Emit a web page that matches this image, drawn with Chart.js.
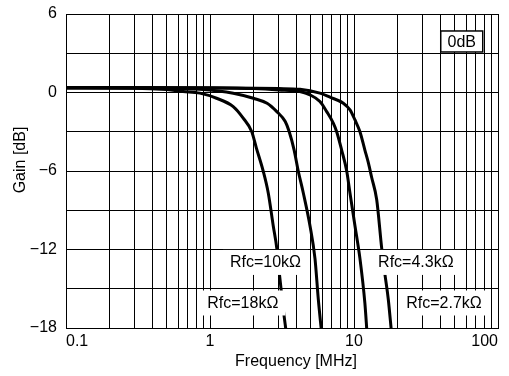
<!DOCTYPE html>
<html><head><meta charset="utf-8">
<script src="https://cdn.jsdelivr.net/npm/chart.js@4/dist/chart.umd.min.js"></script>
<style>html,body{margin:0;padding:0;background:#fff}</style>
</head><body>
<canvas id="c" width="509" height="376"></canvas>
<script>
// ---- data (frequency in MHz, gain in dB) ----
const seriesNames = ['Rfc=18k\u03A9', 'Rfc=10k\u03A9', 'Rfc=4.3k\u03A9', 'Rfc=2.7k\u03A9'];
const freq18k = [0.1, 0.3, 0.5, 0.65, 0.85, 1.11, 1.45, 1.70, 1.95, 2.1, 2.34, 2.54, 2.75, 2.91, 3.03, 3.23, 3.38];
const gain18k = [0.35, 0.33, 0.22, 0.08, -0.05, -0.44, -1.08, -1.96, -3.0, -4.25, -6.0, -7.7, -10.2, -11.9, -13.8, -16.6, -18.3];
const freq10k = [0.1, 0.5, 0.85, 1.45, 2.0, 2.49, 2.91, 3.33, 3.55, 3.84, 4.1, 4.45, 4.95, 5.36, 5.65, 5.95];
const gain10k = [0.35, 0.33, 0.25, -0.05, -0.44, -0.82, -1.46, -2.22, -3.0, -4.4, -6.0, -7.7, -10.2, -12.7, -15.8, -18.3];
const freq4k3 = [0.1, 1, 2, 3, 4.2, 4.95, 5.8, 6.46, 7.18, 7.58, 8.21, 8.9, 9.38, 10.16, 11.0, 11.9, 12.3];
const gain4k3 = [0.38, 0.35, 0.3, 0.2, 0.07, -0.18, -0.69, -1.46, -2.34, -3.0, -4.4, -6.0, -7.7, -10.2, -12.7, -16.1, -18.3];
const freq2k7 = [0.1, 1, 3, 4.22, 5.8, 6.81, 8.43, 9.38, 10.16, 11.0, 11.9, 12.6, 13.27, 14.38, 15.57, 16.4, 17.3, 18.2];
const gain2k7 = [0.38, 0.36, 0.3, 0.25, -0.05, -0.36, -0.82, -1.33, -2.1, -3.0, -4.4, -5.4, -6.5, -8.2, -11.9, -13.9, -15.8, -18.3];

// axis ticks
const freqGrid = [0.1,0.2,0.3,0.4,0.5,0.6,0.7,0.8,0.9,1,2,3,4,5,6,7,8,9,10,20,30,40,50,60,70,80,90,100];
const freqLabelValues = [0.1, 1, 10, 100];
const freqLabelTexts = ['0.1', '1', '10', '100'];
const gainLabelValues = [6, 0, -6, -12, -18];
const gainLabelTexts = ['6', '0', '\u22126', '\u221212', '\u221218'];
const xTitle = 'Frequency [MHz]';
const yTitle = 'Gain [dB]';

// in-plot annotations (text, freq, gain)
const noteTexts = ['Rfc=10k\u03A9', 'Rfc=4.3k\u03A9', 'Rfc=18k\u03A9', 'Rfc=2.7k\u03A9'];
const noteFreqs = [2.43, 26.9, 1.69, 42.2];
const noteGains = [-12.95, -12.95, -16.05, -16.05];
const boxText = '0dB';
const boxFreq = 56;
const boxGain = 3.9;

const FONT = "'Liberation Sans', Arial, Helvetica, sans-serif";
const FS = 16;
const toPts = (f, g) => f.map((v, i) => ({x: v, y: g[i]}));
const mk = (name, f, g) => ({
  label: name, data: toPts(f, g), borderColor: '#000', borderWidth: 3,
  pointRadius: 0, fill: false, cubicInterpolationMode: 'monotone', clip: 0
});

const notesPlugin = {
  id: 'notes',
  afterDatasetsDraw(chart) {
    const {ctx, scales: {x, y}} = chart;
    ctx.save();
    ctx.font = FS + 'px ' + FONT;
    ctx.textAlign = 'center';
    ctx.textBaseline = 'middle';
    noteTexts.forEach((t, i) => {
      const px = x.getPixelForValue(noteFreqs[i]);
      const py = y.getPixelForValue(noteGains[i]);
      const w = ctx.measureText(t).width;
      ctx.fillStyle = '#fff';
      ctx.fillRect(px - w / 2 - 7, py - 12, w + 14, 25);
      ctx.fillStyle = '#000';
      ctx.fillText(t, px, py + 1);
    });
    const bx = x.getPixelForValue(boxFreq);
    const by = y.getPixelForValue(boxGain);
    const bw = 42, bh = 21;
    ctx.fillStyle = '#fff';
    ctx.fillRect(bx - bw / 2, by - bh / 2, bw, bh);
    ctx.strokeStyle = '#000';
    ctx.lineWidth = 1.5;
    ctx.strokeRect(bx - bw / 2, by - bh / 2, bw, bh);
    ctx.fillStyle = '#000';
    ctx.fillText(boxText, bx, by + 1);
    ctx.restore();
  },
  afterDraw(chart) {
    const {ctx, chartArea: a} = chart;
    ctx.save();
    ctx.font = FS + 'px ' + FONT;
    ctx.fillStyle = '#000';
    ctx.textAlign = 'center';
    ctx.textBaseline = 'middle';
    ctx.fillText(xTitle, (a.left + a.right) / 2 + 14, 362);
    ctx.translate(21, (a.top + a.bottom) / 2 - 11);
    ctx.rotate(-Math.PI / 2);
    ctx.fillText(yTitle, 0, 0);
    ctx.restore();
  }
};

new Chart(document.getElementById('c'), {
  type: 'line',
  data: {
    datasets: [
      mk(seriesNames[0], freq18k, gain18k),
      mk(seriesNames[1], freq10k, gain10k),
      mk(seriesNames[2], freq4k3, gain4k3),
      mk(seriesNames[3], freq2k7, gain2k7)
    ]
  },
  options: {
    responsive: false,
    animation: false,
    devicePixelRatio: 1,
    layout: {padding: {left: 0, right: 11, top: 14, bottom: 0}},
    plugins: {legend: {display: false}, tooltip: {enabled: false}},
    scales: {
      x: {
        type: 'logarithmic', min: 0.1, max: 100,
        afterBuildTicks: s => { s.ticks = freqGrid.map(v => ({value: v})); },
        afterFit: s => { s.height = 48; s.paddingLeft = 0; s.paddingRight = 0; },
        ticks: {
          autoSkip: false, maxRotation: 0, minRotation: 0, align: 'inner', padding: 4,
          color: '#000', font: {family: FONT, size: FS},
          callback: v => { const k = freqLabelValues.indexOf(v); return k >= 0 ? freqLabelTexts[k] : ''; }
        },
        grid: {color: '#000', lineWidth: 1, drawTicks: false},
        border: {display: true, color: '#000', width: 1}
      },
      y: {
        min: -18, max: 6,
        afterFit: s => { s.width = 66; s.paddingTop = 0; s.paddingBottom = 0; },
        ticks: {
          stepSize: 3, padding: 9, color: '#000', font: {family: FONT, size: FS},
          callback: v => { const k = gainLabelValues.indexOf(v); return k >= 0 ? gainLabelTexts[k] : ''; }
        },
        grid: {color: '#000', lineWidth: 1, drawTicks: false},
        border: {display: true, color: '#000', width: 1}
      }
    }
  },
  plugins: [notesPlugin]
});
</script>
</body></html>
